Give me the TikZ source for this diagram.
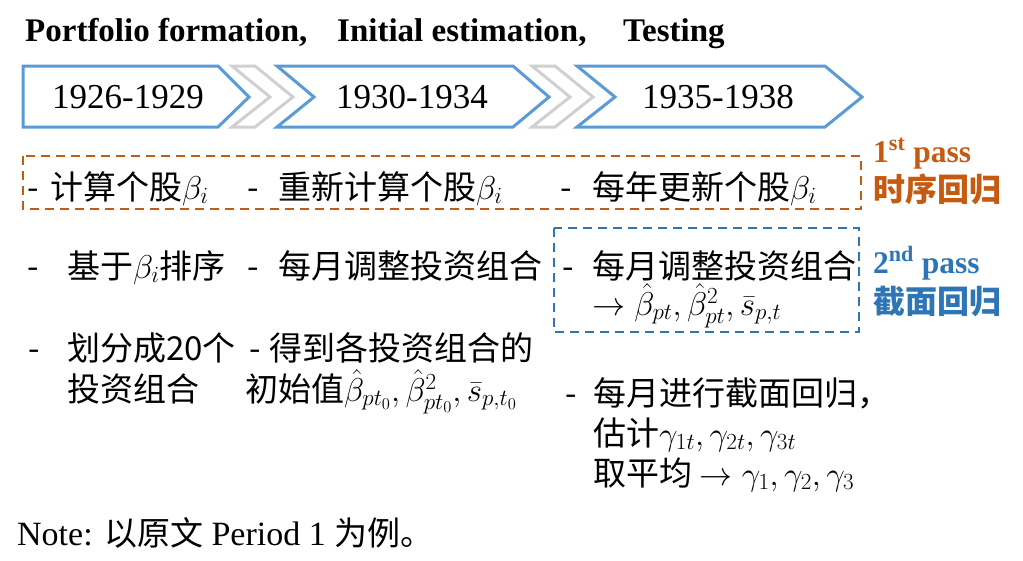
\RequirePackage{fix-cm}
\documentclass[tikz,border=0pt]{standalone}
\usepackage{amsmath}
\usepackage{fontspec}
\setmainfont{Liberation Serif}
\newfontfamily\cjk{Noto Sans CJK SC}
\usetikzlibrary{positioning}

\definecolor{boxblue}{HTML}{5B9BD5}
\definecolor{chevgray}{HTML}{D0D0D0}
\definecolor{passorange}{HTML}{C55A11}
\definecolor{passblue}{HTML}{2E75B6}

\begin{document}
\begin{tikzpicture}[x=1pt, y=-1pt, line cap=round, line join=miter,
    period/.style={draw=boxblue, line width=3pt},
    gap/.style={draw=chevgray, line width=3pt},
    pass/.style={line width=2.4pt, dash pattern=on 9pt off 6pt, line cap=butt},
    title/.style={anchor=base west, inner sep=0pt, font=\bfseries\fontsize{33}{38}\selectfont},
    year/.style={anchor=base, inner sep=0pt, font=\fontsize{35}{40}\selectfont},
    body/.style={anchor=base west, inner sep=0pt, font=\cjk\fontsize{33}{40}\selectfont},
    passlbl/.style={anchor=base west, inner sep=0pt, font=\bfseries\fontsize{31.5}{36}\selectfont},
    passcjk/.style={anchor=base west, inner sep=0pt, font=\cjk\bfseries\fontsize{32}{36}\selectfont}]
    \useasboundingbox (0,0) rectangle (1023,560);

    % stage titles
    \node[title] (form) at (25,41)  {Portfolio formation,};
    \node[title] (init) at (337,41) {Initial estimation,};
    \node[title] (test) at (623,41) {Testing};

    % period arrows
    \draw[period] (23,66) -- (218,66) -- (249,97) -- (218,127) -- (23,127) -- cycle;
    \draw[period] (277,66) -- (513,66) -- (549,97) -- (513,127) -- (277,127) -- (314,97) -- cycle;
    \draw[period] (577,66) -- (825,66) -- (862,97) -- (825,127) -- (577,127) -- (615,97) -- cycle;
    \draw[gap] (232,66) -- (255,66) -- (293,97) -- (255,127) -- (232,127) -- (270,97) -- cycle;
    \draw[gap] (532,66) -- (555,66) -- (593,97) -- (555,127) -- (532,127) -- (570,97) -- cycle;

    \node[year] (yA) at (128,108) {1926-1929};
    \node[year] (yB) at (412,108) {1930-1934};
    \node[year] (yC) at (718,108) {1935-1938};

    % pass frames
    \draw[pass, passorange] (23,156) rectangle (861,209);
    \draw[pass, passblue] (554,228) rectangle (859,332);

    \node[passlbl, passorange] (p1) at (873,162) {1\textsuperscript{st} pass};
    \node[passcjk, passorange] (p1c) at (873,201) {时序回归};
    \node[passlbl, passblue] (p2) at (873,273) {2\textsuperscript{nd} pass};
    \node[passcjk, passblue] (p2c) at (873,313) {截面回归};

    % column 1
    \node[body] (dA1) at (27,199) {-};
    \node[body] (tA1) at (50,199) {计算个股$\beta_i$};
    \node[body] (dA2) at (27,278) {-};
    \node[body] (tA2) at (67,278) {基于$\beta_i$排序};
    \node[body] (dA3) at (28,360) {-};
    \node[body] (tA3) at (67,360) {划分成20个};
    \node[body] (tA3b) at (67,401) {投资组合};

    % column 2
    \node[body] (dB1) at (247,199) {-};
    \node[body] (tB1) at (278,199) {重新计算个股$\beta_i$};
    \node[body] (dB2) at (247,278) {-};
    \node[body] (tB2) at (278,278) {每月调整投资组合};
    \node[body] (dB3) at (249,360) {-};
    \node[body] (tB3) at (269,360) {得到各投资组合的};
    \node[body] (tB3b) at (245,401) {初始值$\hat{\beta}_{pt_0},\hat{\beta}^2_{pt_0},\bar{s}_{p,t_0}$};

    % column 3
    \node[body] (dC1) at (560,199) {-};
    \node[body] (tC1) at (592,199) {每年更新个股$\beta_i$};
    \node[body] (dC2) at (562,278) {-};
    \node[body] (tC2) at (592,278) {每月调整投资组合};
    \node[body] (tC2b) at (592,315) {$\rightarrow\hat{\beta}_{pt},\hat{\beta}^2_{pt},\bar{s}_{p,t}$};
    \node[body] (dC3) at (565,405) {-};
    \node[body] (tC3) at (593,405) {每月进行截面回归，};
    \node[body] (tC3b) at (593,445) {估计$\gamma_{1t},\gamma_{2t},\gamma_{3t}$};
    \node[body] (tC3c) at (593,485) {取平均 $\rightarrow\gamma_1,\gamma_2,\gamma_3$};

    \node[anchor=base west, inner sep=0pt, font=\fontsize{34}{40}\selectfont] (note) at (17,545)
        {Note: {\cjk\fontsize{33}{40}\selectfont 以原文} Period 1 {\cjk\fontsize{33}{40}\selectfont 为例。}};
\end{tikzpicture}
\end{document}
